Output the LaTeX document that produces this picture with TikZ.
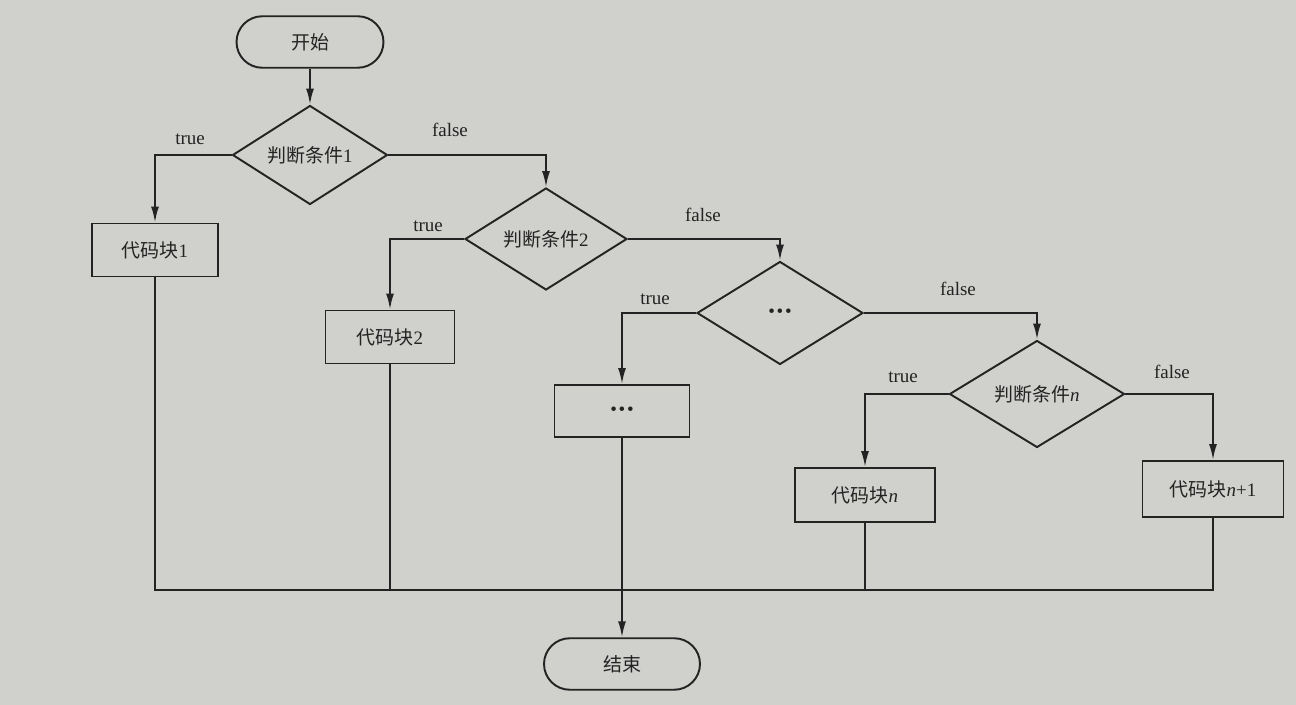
\documentclass[tikz,border=0pt]{standalone}
\usepackage{fontspec}
\setmainfont{Liberation Serif}
\newfontfamily\cjk{Noto Sans CJK SC}
\usetikzlibrary{shapes.geometric,shapes.misc,arrows.meta}
\definecolor{paper}{RGB}{208,208,205}
\definecolor{ink}{RGB}{35,35,35}
\newcommand{\mydots}{\raisebox{-0.2ex}{•\kern1pt•\kern1pt•}}
\begin{document}
\begin{tikzpicture}[x=0.02cm,y=-0.02cm,
  every node/.style={font=\fontsize{10.8pt}{12pt}\selectfont, text=ink},
  ln/.style={draw=ink, line width=1.1pt},
  arr/.style={ln, -{Latex[length=3.2mm,width=1.6mm]}},
  term/.style={rounded rectangle, ln, inner sep=0pt, minimum height=1.03cm},
  cond/.style={diamond, ln, inner sep=0pt, aspect=1.6},
  blk/.style={rectangle, ln, inner sep=0pt, minimum height=1.06cm},
  lbl/.style={inner sep=1pt}]
\fill[paper] (0,0) rectangle (1296,705);
\useasboundingbox (0,0) rectangle (1296,705);

\node[term, minimum width=2.94cm] (start) at (310,42) {{\cjk 开始}};
\node[cond, minimum width=3.1cm, minimum height=1.98cm] (d1) at (310,155) {{\cjk 判断条件}1};
\node[blk, minimum width=2.52cm] (b1) at (155,250) {{\cjk 代码块}1};
\node[cond, minimum width=3.24cm, minimum height=2.04cm] (d2) at (546,239) {{\cjk 判断条件}2};
\node[blk, minimum width=2.58cm] (b2) at (390,337) {{\cjk 代码块}2};
\node[cond, minimum width=3.32cm, minimum height=2.06cm] (d3) at (780,313) {\mydots};
\node[blk, minimum width=2.7cm, minimum height=1.04cm] (b3) at (622,411) {\mydots};
\node[cond, minimum width=3.5cm, minimum height=2.14cm] (dn) at (1037,394) {{\cjk 判断条件}\textit{n}};
\node[blk, minimum width=2.8cm, minimum height=1.08cm] (bn) at (865,495) {{\cjk 代码块}\textit{n}};
\node[blk, minimum width=2.82cm, minimum height=1.12cm] (bn1) at (1213,489) {{\cjk 代码块}\textit{n}+1};
\node[term, minimum width=3.12cm] (end) at (622,664) {{\cjk 结束}};

\coordinate (m) at (0,590);

\draw[arr] (start.south) -- (d1.north);
\draw[arr] (d1.west) -| (b1.north);
\draw[arr] (d1.east) -| (d2.north);
\draw[arr] (d2.west) -| (b2.north);
\draw[arr] (d2.east) -| (d3.north);
\draw[arr] (d3.west) -| (b3.north);
\draw[arr] (d3.east) -| (dn.north);
\draw[arr] (dn.west) -| (bn.north);
\draw[arr] (dn.east) -| (bn1.north);

\draw[ln] (b1.south) -- (b1.south |- m) -- (bn1.south |- m) -- (bn1.south);
\draw[ln] (b2.south) -- (b2.south |- m);
\draw[ln] (bn.south) -- (bn.south |- m);
\draw[arr] (b3.south) -- (end.north);

\node[lbl] (t1) at (190,139) {true};
\node[lbl] (f1) at (450,130) {false};
\node[lbl] (t2) at (428,226) {true};
\node[lbl] (f2) at (703,215) {false};
\node[lbl] (t3) at (655,299) {true};
\node[lbl] (f3) at (958,289) {false};
\node[lbl] (tn) at (903,377) {true};
\node[lbl] (fn) at (1172,372) {false};
\end{tikzpicture}
\end{document}
